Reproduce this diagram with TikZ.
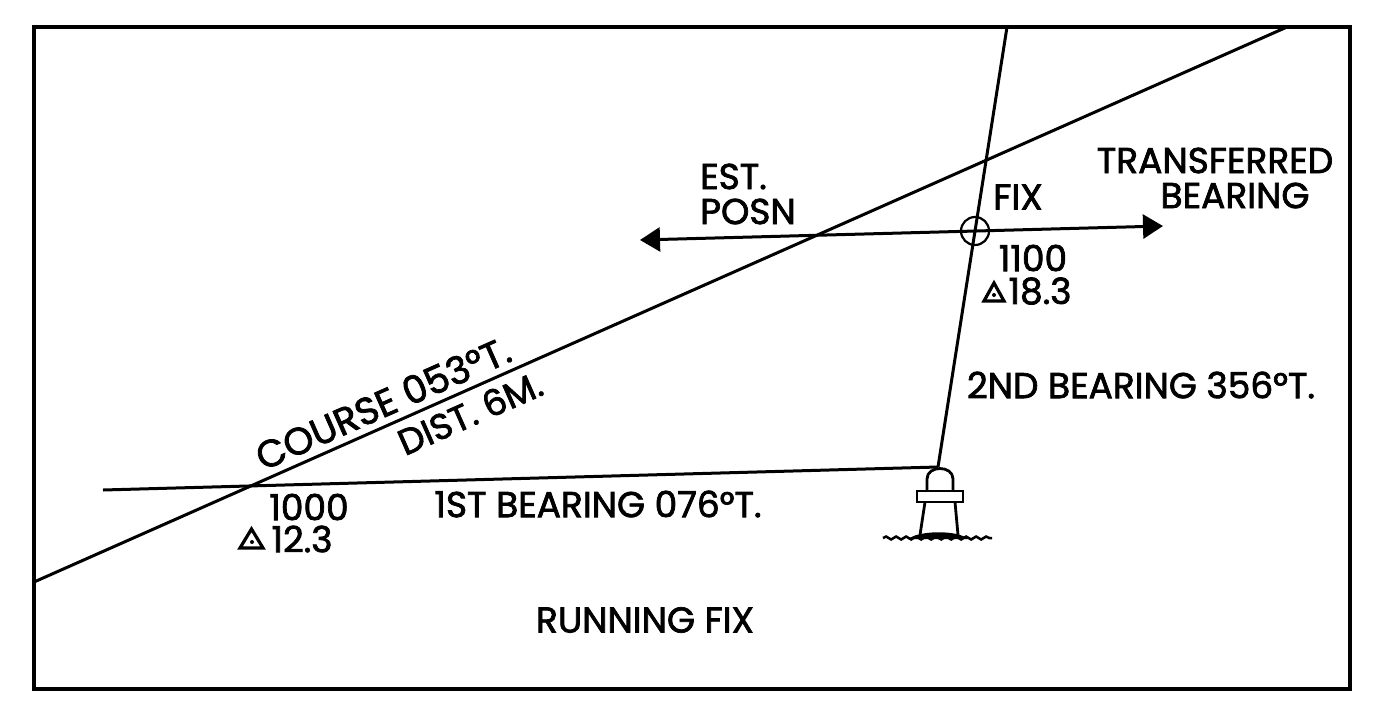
\documentclass[tikz,border=0pt]{standalone}
\usepackage{fontspec}
\setmainfont{Poppins}[FakeBold=2]
\usetikzlibrary{arrows.meta,decorations.pathmorphing}
\begin{document}
\begin{tikzpicture}[x=1pt,y=-1pt,
  >={Triangle[length=20pt,width=24pt]},
  lbl/.style={inner sep=0pt, font=\fontsize{36}{35}\selectfont},
  ln/.style={line width=3pt},
  lhs/.style={line width=2.8pt},
  tri/.style={line width=3.2pt, line join=miter}]
\useasboundingbox (0,0) rectangle (1375,715);
\fill[white] (0,0) rectangle (1375,715);
\draw[line width=4.5pt] (34,27) rectangle (1350,689);
% course line
\coordinate (cA) at (34,582);
\coordinate (cB) at (1287,27);
\draw[ln] (cA) -- (cB);
% bearings
\coordinate (b1) at (103,490);
\coordinate (lh) at (938,467);
\coordinate (b2) at (1007,27);
\draw[ln] (b1) -- (lh);
\draw[ln] (lh) -- (b2);
\node[draw, circle, minimum size=28pt, inner sep=0pt, line width=2.2pt] (fix) at (975,231) {};
% transferred bearing
\coordinate (tL) at (640,240);
\coordinate (tR) at (1163,226);
\draw[ln, <->] (tL) -- (tR);
% lighthouse
\draw[lhs, fill=white] (927,491) -- (927,479) .. controls (927,465) and (953,465) .. (953,479) -- (953,491);
\draw[lhs, fill=white] (917,491) rectangle (963,502);
\draw[lhs] (925,502) -- (920,535);
\draw[lhs] (955,502) -- (958,535);
\draw[line width=2.5pt, decorate, decoration={snake, amplitude=1.5pt, segment length=10pt}] (883,538) -- (992,538);
\fill (908,539) .. controls (920,530) and (958,530) .. (968,539) -- cycle;
% triangle symbols
\draw[tri] (240,548) -- (251.5,529) -- (263,548) -- cycle;
\fill (252,542) circle[radius=2pt];
\draw[tri] (984,301) -- (994,283) -- (1004,301) -- cycle;
\fill (994,295) circle[radius=2pt];
% labels
\node[lbl, anchor=west, align=left] (est) at (700,194) {EST.\\POSN};
\node[lbl, align=center] (trans) at (1215,178) {TRANSFERRED\\\hspace*{40pt}BEARING};
\node[lbl] (fixl) at (1018,197) {FIX};
\node[lbl] (t1100) at (1033,258) {1100};
\node[lbl] (d183) at (1040,291) {18.3};
\node[lbl] (b2l) at (1141,385) {2ND BEARING 356°T.};
\node[lbl, font=\fontsize{38}{38}\selectfont, rotate=23.85] (crs) at (383,403) {COURSE 053°T.};
\node[lbl, rotate=23.85] (dist) at (470,413) {DIST. 6M.};
\node[lbl] (t1000) at (309,507) {1000};
\node[lbl] (d123) at (302,539) {12.3};
\node[lbl] (b1l) at (598,504) {1ST BEARING 076°T.};
\node[lbl] (title) at (645,620) {RUNNING FIX};
\end{tikzpicture}
\end{document}
